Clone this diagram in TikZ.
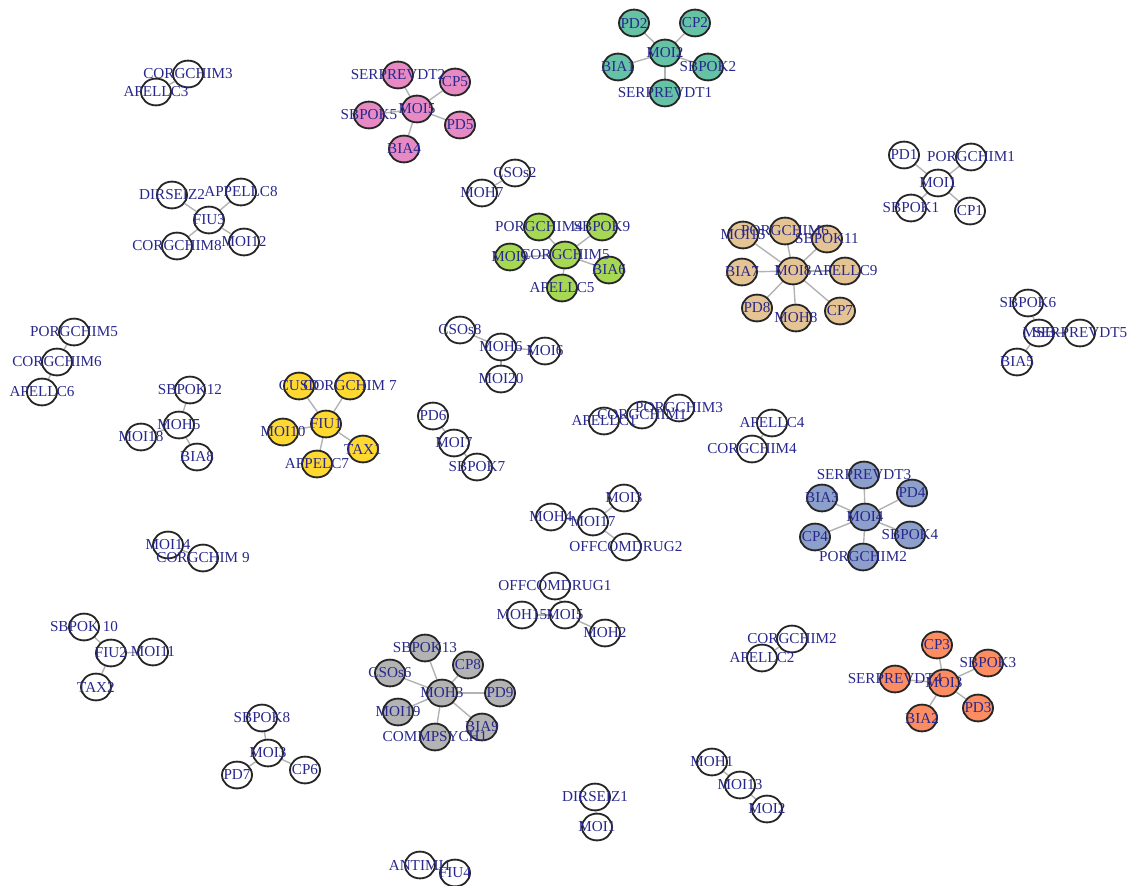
\documentclass[tikz,border=0pt]{standalone}
\usepackage{fontspec}
\setmainfont{Liberation Serif}
\usetikzlibrary{shapes.geometric}
\definecolor{labelblue}{RGB}{40,40,140}
\definecolor{edgegray}{RGB}{178,178,178}
\definecolor{sTeal}{HTML}{66C2A5}
\definecolor{sOrange}{HTML}{FC8D62}
\definecolor{sBlue}{HTML}{8DA0CB}
\definecolor{sPink}{HTML}{E78AC3}
\definecolor{sGreen}{HTML}{A6D854}
\definecolor{sYellow}{HTML}{FFD92F}
\definecolor{sTan}{HTML}{E5C494}
\definecolor{sGray}{HTML}{B3B3B3}
\pgfdeclarelayer{edges}
\pgfdeclarelayer{labels}
\pgfsetlayers{edges,main,labels}
\newcommand{\vtx}[4][white]{%
  \node[vert, fill=#1] (#2) at (#3) {};
  \begin{pgfonlayer}{labels}\node[lbl] (#2-t) at (#2) {#4};\end{pgfonlayer}}

\begin{document}
\begin{tikzpicture}[x=0.25mm, y=-0.25mm]
\tikzset{
    vert/.style={ellipse, draw=black!85, line width=1.3pt, minimum width=7.5mm, minimum height=6.7mm, inner sep=0pt},
    lbl/.style={text=labelblue, font=\fontsize{10.8}{12}\selectfont, inner sep=0pt},
    edge/.style={edgegray, line width=1pt}
}
\useasboundingbox (0,0) rectangle (1132,886);

% top left
\vtx{corg3}{188,74}{CORGCHIM3}
\vtx{apel3}{156,92}{APELLC3}
\vtx{fiu3}{209,220}{FIU3}
\vtx{dirs2}{172,195}{DIRSEIZ2}
\vtx{appel8}{241,192}{APPELLC8}
\vtx{corg8}{177,246}{CORGCHIM8}
\vtx{moi12}{244,242}{MOI12}

% pink
\vtx[sPink]{moi5}{417,109}{MOI5}
\vtx[sPink]{serp2}{398,75}{SERPREVDT2}
\vtx[sPink]{cp5}{455,82}{CP5}
\vtx[sPink]{sbpok5}{369,115}{SBPOK5}
\vtx[sPink]{pd5}{460,125}{PD5}
\vtx[sPink]{bia4}{404,149}{BIA4}

% teal
\vtx[sTeal]{moi2}{665,53}{MOI2}
\vtx[sTeal]{pd2}{634,23}{PD2}
\vtx[sTeal]{cp2}{695,23}{CP2}
\vtx[sTeal]{bia1}{618,67}{BIA1}
\vtx[sTeal]{sbpok2}{708,67}{SBPOK2}
\vtx[sTeal]{serp1}{665,93}{SERPREVDT1}

\vtx{csos2}{515,173}{CSOs2}
\vtx{moh7}{482,193}{MOH7}

% green
\vtx[sGreen]{corg5}{565,255}{CORGCHIM5}
\vtx[sGreen]{porg4}{539,227}{PORGCHIM4}
\vtx[sGreen]{sbpok9}{602,227}{SBPOK9}
\vtx[sGreen]{moi9}{510,257}{MOI9}
\vtx[sGreen]{bia6}{609,270}{BIA6}
\vtx[sGreen]{apel5}{562,288}{APELLC5}

% top right
\vtx{moi1}{938,183}{MOI1}
\vtx{pd1}{904,155}{PD1}
\vtx{porg1}{971,157}{PORGCHIM1}
\vtx{sbpok1}{911,208}{SBPOK1}
\vtx{cp1}{970,211}{CP1}

% tan
\vtx[sTan]{moi8}{793,271}{MOI8}
\vtx[sTan]{moi15}{743,235}{MOI15}
\vtx[sTan]{porg6}{785,231}{PORGCHIM6}
\vtx[sTan]{sbpok11}{827,239}{SBPOK11}
\vtx[sTan]{bia7}{742,272}{BIA7}
\vtx[sTan]{apel9}{845,271}{APELLC9}
\vtx[sTan]{pd8}{757,308}{PD8}
\vtx[sTan]{moh8}{796,318}{MOH8}
\vtx[sTan]{cp7}{840,311}{CP7}

% middle left
\vtx{porg5}{74,332}{PORGCHIM5}
\vtx{corg6}{57,362}{CORGCHIM6}
\vtx{apel6}{42,392}{APELLC6}
\vtx{moh5}{179,425}{MOH5}
\vtx{sbpok12}{190,390}{SBPOK12}
\vtx{moi18}{141,437}{MOI18}
\vtx{bia8}{197,457}{BIA8}

% yellow
\vtx[sYellow]{fiu1}{326,424}{FIU1}
\vtx[sYellow]{cusd}{299,386}{CUSD}
\vtx[sYellow]{corg7}{350,386}{CORGCHIM 7}
\vtx[sYellow]{moi10}{283,432}{MOI10}
\vtx[sYellow]{tax1}{363,449}{TAX1}
\vtx[sYellow]{appel7}{317,464}{APPELC7}

% middle
\vtx{moh6}{501,347}{MOH6}
\vtx{csos8}{460,330}{CSOs8}
\vtx{moi6}{545,351}{MOI6}
\vtx{moi20}{501,379}{MOI20}
\vtx{pd6}{433,416}{PD6}
\vtx{moi7}{454,443}{MOI7}
\vtx{sbpok7}{477,467}{SBPOK7}
\vtx{apel1}{604,421}{APELLC1}
\vtx{corg1}{642,415}{CORGCHIM1}
\vtx{porg3}{679,408}{PORGCHIM3}
\vtx{apel4}{772,423}{APELLC4}
\vtx{corg4}{752,449}{CORGCHIM4}

% right
\vtx{sbpok6}{1028,303}{SBPOK6}
\vtx{msb}{1039,333}{MSB}
\vtx{serp5}{1080,333}{SERPREVDT5}
\vtx{bia5}{1017,362}{BIA5}

% blue
\vtx[sBlue]{moi4}{865,517}{MOI4}
\vtx[sBlue]{serp3}{864,475}{SERPREVDT3}
\vtx[sBlue]{bia3}{822,498}{BIA3}
\vtx[sBlue]{pd4}{912,493}{PD4}
\vtx[sBlue]{sbpok4}{910,535}{SBPOK4}
\vtx[sBlue]{cp4}{815,537}{CP4}
\vtx[sBlue]{porg2}{863,557}{PORGCHIM2}

\vtx{moi17}{593,522}{MOI17}
\vtx{moh4}{551,517}{MOH4}
\vtx{moi3b}{624,498}{MOI3}
\vtx{offc2}{626,547}{OFFCOMDRUG2}
\vtx{moi14}{168,545}{MOI14}
\vtx{corg9}{203,558}{CORGCHIM 9}
\vtx{moi5b}{565,615}{MOI5}
\vtx{offc1}{555,586}{OFFCOMDRUG1}
\vtx{moh15}{522,615}{MOH15}
\vtx{moh2}{605,633}{MOH2}

% bottom left
\vtx{fiu2}{111,653}{FIU2}
\vtx{sbpok10}{84,627}{SBPOK 10}
\vtx{moi11}{153,652}{MOI11}
\vtx{tax2}{96,687}{TAX2}
\vtx{moi3c}{268,753}{MOI3}
\vtx{sbpok8}{262,718}{SBPOK8}
\vtx{pd7}{237,775}{PD7}
\vtx{cp6}{305,770}{CP6}

% gray
\vtx[sGray]{moh3}{442,693}{MOH3}
\vtx[sGray]{sbpok13}{425,648}{SBPOK13}
\vtx[sGray]{cp8}{468,665}{CP8}
\vtx[sGray]{csos6}{390,673}{CSOs6}
\vtx[sGray]{pd9}{500,693}{PD9}
\vtx[sGray]{moi19}{398,712}{MOI19}
\vtx[sGray]{bia9}{482,727}{BIA9}
\vtx[sGray]{comm1}{435,737}{COMMPSYCH1}

% orange
\vtx[sOrange]{moi3}{944,683}{MOI3}
\vtx[sOrange]{cp3}{937,645}{CP3}
\vtx[sOrange]{sbpok3}{988,663}{SBPOK3}
\vtx[sOrange]{serp4}{895,679}{SERPREVDT4}
\vtx[sOrange]{pd3}{978,708}{PD3}
\vtx[sOrange]{bia2}{922,718}{BIA2}

% bottom
\vtx{corg2}{792,639}{CORGCHIM2}
\vtx{apel2}{762,658}{APELLC2}
\vtx{dirs1}{595,797}{DIRSEIZ1}
\vtx{moi1b}{597,827}{MOI1}
\vtx{moh1}{712,762}{MOH1}
\vtx{moi13}{740,785}{MOI13}
\vtx{moi2b}{767,809}{MOI2}
\vtx{anti1}{420,865}{ANTIMI1}
\vtx{fiu4}{455,873}{FIU4}

\begin{pgfonlayer}{edges}
\draw[edge] (corg3) -- (apel3);
\foreach \t in {dirs2,appel8,corg8,moi12} \draw[edge] (fiu3) -- (\t);
\foreach \t in {serp2,cp5,sbpok5,pd5,bia4} \draw[edge] (moi5) -- (\t);
\foreach \t in {pd2,cp2,bia1,sbpok2,serp1} \draw[edge] (moi2) -- (\t);
\draw[edge] (csos2) -- (moh7);
\foreach \t in {porg4,sbpok9,moi9,bia6,apel5} \draw[edge] (corg5) -- (\t);
\foreach \t in {pd1,porg1,sbpok1,cp1} \draw[edge] (moi1) -- (\t);
\foreach \t in {moi15,porg6,sbpok11,bia7,apel9,pd8,moh8,cp7} \draw[edge] (moi8) -- (\t);
\draw[edge] (porg5) -- (corg6) -- (apel6);
\foreach \t in {sbpok12,moi18,bia8} \draw[edge] (moh5) -- (\t);
\foreach \t in {cusd,corg7,moi10,tax1,appel7} \draw[edge] (fiu1) -- (\t);
\foreach \t in {csos8,moi6,moi20} \draw[edge] (moh6) -- (\t);
\draw[edge] (pd6) -- (moi7) -- (sbpok7);
\draw[edge] (apel1) -- (corg1) -- (porg3);
\draw[edge] (apel4) -- (corg4);
\foreach \t in {sbpok6,serp5,bia5} \draw[edge] (msb) -- (\t);
\foreach \t in {serp3,bia3,pd4,sbpok4,cp4,porg2} \draw[edge] (moi4) -- (\t);
\foreach \t in {moh4,moi3b,offc2} \draw[edge] (moi17) -- (\t);
\draw[edge] (moi14) -- (corg9);
\foreach \t in {offc1,moh15,moh2} \draw[edge] (moi5b) -- (\t);
\foreach \t in {sbpok10,moi11,tax2} \draw[edge] (fiu2) -- (\t);
\foreach \t in {sbpok8,pd7,cp6} \draw[edge] (moi3c) -- (\t);
\foreach \t in {sbpok13,cp8,csos6,pd9,moi19,bia9,comm1} \draw[edge] (moh3) -- (\t);
\foreach \t in {cp3,sbpok3,serp4,pd3,bia2} \draw[edge] (moi3) -- (\t);
\draw[edge] (corg2) -- (apel2);
\draw[edge] (dirs1) -- (moi1b);
\draw[edge] (moh1) -- (moi13) -- (moi2b);
\draw[edge] (anti1) -- (fiu4);
\end{pgfonlayer}
\end{tikzpicture}
\end{document}
